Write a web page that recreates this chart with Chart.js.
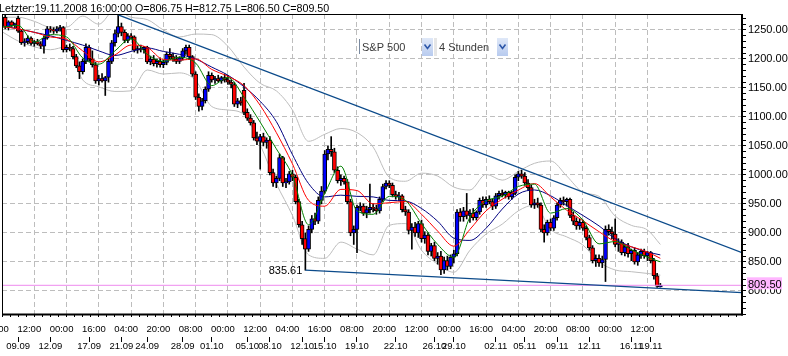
<!DOCTYPE html>
<html><head><meta charset="utf-8">
<script src="https://cdn.jsdelivr.net/npm/chart.js@4.4.1/dist/chart.umd.min.js"></script>
<style>html,body{margin:0;padding:0;background:#fff;overflow:hidden}</style>
</head><body>
<canvas id="c" width="788" height="356"></canvas>
<script>
// ---- candle data (4-hour bars, S&P 500) ----
const opens = [1272,1255,1264,1258,1270,1248,1228,1230,1236,1227,1230,1226,1222,1236,1252,1250,1248,1252,1254,1216,1220,1218,1204,1188,1178,1196,1220,1200,1190,1162,1166,1162,1168,1196,1228,1244,1256,1246,1232,1240,1238,1215,1218,1216,1220,1195,1200,1192,1196,1190,1194,1208,1204,1200,1196,1202,1214,1220,1204,1174,1134,1118,1128,1148,1172,1164,1166,1162,1168,1164,1160,1156,1122,1128,1146,1108,1098,1090,1064,1058,1066,1056,1060,1004,986,994,1030,986,988,1002,996,954,914,890,872,906,924,920,956,972,1036,1044,1040,1008,990,994,988,954,900,906,944,946,934,940,944,942,938,958,980,986,982,966,962,964,940,936,904,910,900,916,890,896,868,878,856,860,836,852,842,858,864,936,928,938,930,934,926,936,956,948,958,954,946,964,968,966,970,962,968,996,1002,998,986,978,948,952,948,906,900,918,908,926,948,956,954,958,930,920,912,918,908,892,874,852,856,848,854,906,902,898,880,884,866,876,864,870,850,862,868,860,866,852,826,806.75];
const highs = [1276,1266,1266,1262,1274,1250,1235,1240,1238,1232,1234,1230,1240,1256,1256,1254,1256,1258,1256,1224,1226,1222,1208,1195,1200,1226,1224,1214,1194,1172,1175,1170,1200,1232,1250,1276,1262,1250,1244,1244,1240,1222,1224,1222,1222,1205,1206,1200,1202,1198,1212,1218,1210,1206,1204,1218,1224,1224,1206,1178,1140,1132,1152,1178,1176,1170,1172,1170,1174,1172,1164,1160,1132,1134,1158,1114,1104,1094,1074,1070,1072,1064,1066,1010,998,1036,1032,994,1006,1008,1000,958,920,900,912,930,934,962,980,1042,1050,1066,1046,1014,1000,998,992,958,912,948,952,950,946,984,950,948,962,984,990,990,986,972,970,966,946,940,916,918,920,922,902,900,882,884,866,868,858,860,862,870,940,942,944,968,940,942,938,960,962,962,964,958,968,972,974,972,972,972,1000,1006,1008,1004,992,982,958,960,952,914,922,924,930,952,960,962,960,960,936,926,924,922,912,896,878,862,862,860,912,914,910,924,890,888,880,882,872,874,866,872,872,868,868,856,830,812.75];
const lows = [1252,1250,1256,1254,1246,1225,1222,1226,1224,1222,1224,1218,1210,1234,1246,1244,1245,1248,1212,1212,1214,1200,1185,1166,1174,1192,1196,1186,1158,1155,1160,1137,1160,1192,1222,1238,1240,1228,1228,1234,1212,1210,1212,1210,1192,1190,1188,1186,1186,1185,1190,1200,1196,1192,1192,1198,1208,1200,1170,1130,1110,1112,1124,1144,1160,1158,1160,1158,1160,1156,1150,1118,1116,1120,1104,1094,1086,1060,1052,1010,1050,1046,1000,980,978,990,980,978,984,990,950,910,880,835.61,868,900,914,916,950,968,1026,1032,1004,986,982,984,950,895,880,866,938,930,926,934,936,932,934,954,976,978,962,958,956,936,930,898,872,894,892,884,882,862,860,852,846,828,830,836,838,848,860,920,920,924,918,922,922,932,944,944,950,940,942,958,962,960,958,958,966,990,994,982,974,944,942,944,902,884,896,904,904,922,944,948,946,926,914,906,906,904,888,870,848,842,842,840,816,896,890,876,868,862,860,858,852,846,844,856,856,852,848,820,806,806.5];
const closes = [1255,1264,1258,1260,1248,1228,1230,1236,1227,1230,1226,1222,1236,1252,1250,1248,1252,1254,1216,1220,1218,1204,1188,1178,1196,1220,1200,1190,1162,1166,1162,1168,1196,1228,1244,1256,1246,1232,1240,1238,1215,1218,1216,1220,1195,1200,1192,1196,1190,1194,1208,1204,1200,1196,1202,1214,1220,1204,1174,1134,1118,1128,1148,1172,1164,1166,1162,1168,1164,1160,1156,1122,1128,1124,1108,1098,1090,1064,1058,1066,1056,1060,1004,986,994,1030,986,988,1002,996,954,914,890,872,906,924,920,956,972,1036,1044,1040,1008,990,994,988,954,900,906,944,946,934,940,944,942,938,958,980,986,982,966,962,964,940,936,904,910,900,916,890,896,868,878,856,860,836,852,842,858,864,936,928,938,930,934,926,936,956,948,958,954,946,964,968,966,970,962,968,996,1002,998,986,978,948,952,948,906,900,918,908,926,948,956,954,958,930,920,912,918,908,892,874,852,856,848,854,906,902,898,880,884,866,876,864,870,850,862,868,860,866,852,826,808,809.5];

// ---- indicator lines, read at every 5th bar ----
const maX     = [0,5,10,15,20,25,30,35,40,45,50,55,60,65,70,75,80,85,90,95,100,105,110,115,120,125,130,135,140,145,150,155,160,165,170,175,180,185,190,195,200,204];
const maFast  = [1255,1258,1229,1242,1238,1202,1191,1214,1235,1208,1196,1203,1193,1154,1168,1134,1091,1045,999,914,968,1015,938,932,963,956,916,880,858,927,955,963,980,984,934,942,922,881,885,871,858,850];
const maMid   = [1256,1252,1246,1238,1234,1214,1195,1207,1224,1220,1199,1198,1200,1182,1170,1154,1120,1073,1019,956,946,975,973,950,952,954,932,903,877,906,938,958,974,985,962,939,921,902,885,876,867,856];
const maSlow  = [1257,1252,1246,1240,1232,1224,1214,1206,1213,1219,1213,1208,1200,1186,1172,1152,1127,1092,1035,985,962,965,963,962,956,955,942,920,891,887,908,941,967,974,964,947,930,912,890,876,867,862];
const bbUpper = [1272,1272,1265,1255,1255,1274,1260,1285,1272,1268,1250,1238,1243,1242,1222,1186,1158,1145,1112,1058,1070,1080,1073,1048,996,989,1003,998,979,974,1001,991,1006,1020,1024,998,970,963,929,913,905,880];
const bbLower = [1247,1231,1221,1216,1221,1164,1152,1144,1145,1181,1174,1176,1163,1118,1112,1104,1052,985,930,862,856,884,872,862,913,916,870,846,832,870,898,915,938,948,906,893,879,850,836,833,830,827];

// ---- trend lines & markers ----
const upperTrendX = [36, 229.3];
const upperTrendY = [1276, 865.9];
const lowerTrendX = [94, 229.3];
const lowerTrendY = [835.61, 797];
const lastPrice = 809.5;
const lowMarkLabel = '835.61';

// ---- axes ----
const xMax = 229.3;
const yMin = 760, yMax = 1277.6;
const timePos = [0,10,20,30,40,50,60,70,80,90,100,110,120,130,140,150,160,170,180,190,200];
const timeLabels = ['00:00','12:00','00:00','16:00','04:00','20:00','08:00','00:00','12:00','04:00','16:00','08:00','20:00','12:00','00:00','16:00','04:00','20:00','08:00','00:00','12:00'];
const datePos = [5,15,27,37,45,56,65,76,83,93,100,110,122,134,140,153,162,172,182,195,201];
const dateLabels = ['09.09','12.09','17.09','21.09','24.09','28.09','01.10','05.10','08.10','12.10','15.10','19.10','22.10','26.10','29.10','02.11','05.11','09.11','12.11','16.11','19.11'];
const headerText = 'Letzter:19.11.2008 16:00:00 O=806.75 H=812.75 L=806.50 C=809.50';
const symbolText = 'S&P 500';
const periodText = '4 Stunden';

const FONT = '"Liberation Sans", Arial, sans-serif';
Chart.defaults.font.family = FONT;
Chart.defaults.font.size = 11;
Chart.defaults.color = '#000';

const yTicks = [];
for (let v = 760; v <= 1270; v += 10) yTicks.push(v);
const xMinorTicks = [];
for (let v = 0; v <= 227.5; v += 2.5) xMinorTicks.push(v);

const bodies = opens.map((o, i) => ({x: i + 1, y: [o, closes[i]]}));
const wicks = lows.map((l, i) => ({x: i + 1, y: [l, highs[i]]}));
const bodyColors = opens.map((o, i) => closes[i] >= o ? '#0000ff' : '#ff0000');
const pts = (xs, ys) => xs.map((x, i) => ({x: x, y: ys[i]}));

const lineDs = (label, data, color, order, width) => ({
  type: 'line', label, data, borderColor: color, borderWidth: width || 1,
  pointRadius: 0, fill: false, order, cubicInterpolationMode: 'monotone'
});

const overlay = {
  id: 'overlay',
  afterDraw(chart) {
    const ctx = chart.ctx, a = chart.chartArea, ys = chart.scales.y, xs = chart.scales.x;
    ctx.save();
    // frame
    ctx.strokeStyle = '#000';
    ctx.lineWidth = 1;
    ctx.beginPath(); ctx.moveTo(a.left, a.top + 0.5); ctx.lineTo(a.right, a.top + 0.5); ctx.stroke();
    ctx.beginPath(); ctx.moveTo(a.left + 0.5, a.top); ctx.lineTo(a.left + 0.5, a.bottom); ctx.stroke();
    ctx.lineWidth = 2;
    ctx.beginPath(); ctx.moveTo(a.left, a.bottom + 0.5); ctx.lineTo(a.right + 1, a.bottom + 0.5); ctx.stroke();
    ctx.beginPath(); ctx.moveTo(a.right, a.top); ctx.lineTo(a.right, a.bottom + 1.5); ctx.stroke();

    // header
    ctx.fillStyle = '#000';
    ctx.font = '10.7px ' + FONT;
    ctx.textBaseline = 'alphabetic';
    ctx.textAlign = 'left';
    ctx.fillText(headerText, -1, 12);

    // low label
    ctx.font = '11px ' + FONT;
    const lx = xs.getPixelForValue(lowerTrendX[0]);
    const ly = ys.getPixelForValue(lowerTrendY[0]);
    ctx.textAlign = 'right';
    ctx.fillText(lowMarkLabel, lx - 3, ly + 3.5);

    // symbol widget
    ctx.textAlign = 'left';
    ctx.strokeStyle = '#7a8aa0'; ctx.lineWidth = 1;
    ctx.beginPath(); ctx.moveTo(359.5, 39); ctx.lineTo(359.5, 54); ctx.stroke();
    ctx.fillStyle = '#3a3a3a';
    ctx.fillText(symbolText, 362, 51);
    ctx.fillText(periodText, 439, 51);
    const arrowBox = (x) => {
      const g = ctx.createLinearGradient(0, 38, 0, 56);
      g.addColorStop(0, '#dfe8f8'); g.addColorStop(1, '#b8cbef');
      ctx.fillStyle = g; ctx.fillRect(x, 38, 11, 18);
      ctx.strokeStyle = '#2c56a8'; ctx.lineWidth = 1.6;
      ctx.beginPath(); ctx.moveTo(x + 2.5, 44.5); ctx.lineTo(x + 5.5, 48.5); ctx.lineTo(x + 8.5, 44.5); ctx.stroke();
    };
    arrowBox(422);
    ctx.fillStyle = '#e6e6e6'; ctx.fillRect(434, 38, 3, 18);
    arrowBox(497);

    // last price box
    const py = ys.getPixelForValue(lastPrice);
    ctx.fillStyle = '#ffb6ff';
    ctx.fillRect(a.right + 5, py - 8, 35, 12);
    ctx.fillStyle = '#000';
    ctx.fillText(lastPrice.toFixed(2), a.right + 6, py + 2.5);
    ctx.restore();
  }
};

new Chart(document.getElementById('c'), {
  type: 'bar',
  data: {
    datasets: [
      lineDs('upper trend', pts(upperTrendX, upperTrendY), '#0b4a8a', 0, 1.2),
      lineDs('lower trend', pts(lowerTrendX, lowerTrendY), '#0b4a8a', 0, 1.2),
      lineDs('last', pts([0, xMax], [lastPrice, lastPrice]), '#ee8aee', 0, 1),
      lineDs('MA fast', pts(maX, maFast), '#008000', 1),
      lineDs('MA mid', pts(maX, maMid), '#ff0000', 1),
      lineDs('MA slow', pts(maX, maSlow), '#000080', 1),
      { type: 'bar', label: 'bodies', data: bodies, backgroundColor: bodyColors, borderColor: '#000',
        borderWidth: 1, borderSkipped: false, barThickness: 4, grouped: false, order: 2 },
      { type: 'bar', label: 'wicks', data: wicks, backgroundColor: '#000', borderWidth: 0,
        barThickness: 1, grouped: false, order: 3 },
      lineDs('BB upper', pts(maX, bbUpper), '#bdbdbd', 4),
      lineDs('BB lower', pts(maX, bbLower), '#bdbdbd', 4)
    ]
  },
  options: {
    responsive: false,
    devicePixelRatio: 1,
    animation: false,
    events: [],
    layout: { padding: { left: 2, top: 14, right: 0, bottom: 0 } },
    plugins: { legend: { display: false }, tooltip: { enabled: false } },
    scales: {
      x: {
        type: 'linear', position: 'bottom', min: 0, max: xMax, offset: false, weight: 0,
        afterBuildTicks: s => { s.ticks = xMinorTicks.map(v => ({value: v})); },
        afterFit: s => { s.height = 23; s.paddingLeft = 0; s.paddingRight = 0; },
        ticks: {
          autoSkip: false, maxRotation: 0, minRotation: 0, padding: 7, labelOffset: -5,
          font: { size: 9.5 },
          callback: v => { const k = timePos.indexOf(v); return k >= 0 ? timeLabels[k] : ''; }
        },
        grid: {
          offset: false, drawTicks: true, tickLength: 3, tickColor: '#000', lineWidth: 1,
          color: c => (c.tick && timePos.indexOf(c.tick.value) > 0) ? '#bdbdbd' : 'rgba(0,0,0,0)'
        },
        border: { display: false, dash: [5, 3] }
      },
      xd: {
        type: 'linear', position: 'bottom', min: 0, max: xMax, offset: false, weight: 1,
        afterBuildTicks: s => { s.ticks = datePos.map(v => ({value: v})); },
        afterFit: s => { s.height = 19; s.paddingLeft = 0; s.paddingRight = 0; },
        ticks: { autoSkip: false, maxRotation: 0, minRotation: 0, padding: -1,
          font: { size: 9.5 },
          callback: (v, i) => dateLabels[i] },
        grid: { offset: false, drawOnChartArea: false, drawTicks: true, tickLength: 5, tickColor: '#000' },
        border: { display: false }
      },
      y: {
        type: 'linear', position: 'right', min: yMin, max: yMax,
        afterBuildTicks: s => { s.ticks = yTicks.map(v => ({value: v})); },
        afterFit: s => { s.width = 46; s.paddingTop = 0; s.paddingBottom = 0; },
        ticks: { autoSkip: false, padding: 2, callback: v => v % 50 === 0 ? v.toFixed(2) : '' },
        grid: {
          drawTicks: true, tickLength: 4, tickColor: '#000', lineWidth: 1,
          color: c => (c.tick && c.tick.value % 50 === 0) ? '#bdbdbd' : 'rgba(0,0,0,0)'
        },
        border: { display: false, dash: [5, 3] }
      }
    }
  },
  plugins: [overlay]
});
</script>
</body></html>
